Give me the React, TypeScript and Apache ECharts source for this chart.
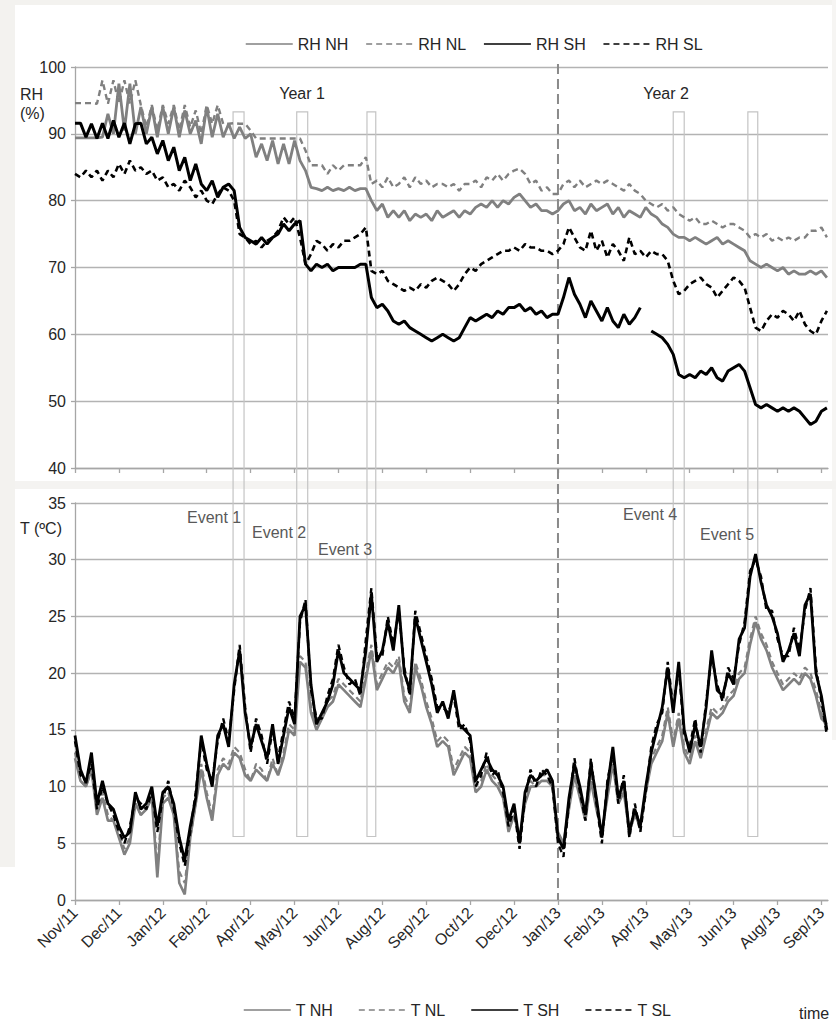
import React, { useEffect, useRef } from 'react';
import * as echarts from 'echarts';

// ---------- DATA ----------
const tickLabels = ['Nov/11', 'Dec/11', 'Jan/12', 'Feb/12', 'Apr/12', 'May/12', 'Jun/12', 'Aug/12', 'Sep/12',
  'Oct/12', 'Dec/12', 'Jan/13', 'Feb/13', 'Apr/13', 'May/13', 'Jun/13', 'Aug/13', 'Sep/13'];
const tickStepDays = 40; // days between axis labels (from 1 Nov 2011)
const dayStep = 5; // sampling step of the series (days)
const xMaxDay = 686;

const rhNames = ['RH NH', 'RH NL', 'RH SH', 'RH SL'];
const tNames = ['T NH', 'T NL', 'T SH', 'T SL'];

// RH (%) every 5 days from 1 Nov 2011
const rhNH = [
  89.4, 89.4, 89.4, 89.4, 89.4, 89.5, 93.0, 90.0, 97.5, 90.5,
  97.5, 90.0, 94.0, 90.0, 94.0, 89.5, 94.0, 90.0, 94.0, 89.5,
  93.5, 90.0, 92.0, 88.5, 94.0, 89.5, 93.0, 89.5, 91.5, 89.3,
  91.0, 89.3, 90.0, 86.5, 88.5, 86.0, 89.0, 85.5, 88.5, 85.5,
  89.0, 86.0, 84.5, 82.0, 81.8, 81.5, 82.0, 81.5, 81.8, 81.5,
  82.0, 81.5, 81.8, 81.8, 80.0, 78.5, 79.5, 77.5, 78.5, 77.5,
  78.5, 77.0, 78.0, 77.5, 78.0, 77.0, 78.5, 77.5, 78.0, 78.5,
  77.5, 78.5, 78.0, 79.0, 79.5, 79.0, 80.0, 79.0, 80.0, 79.5,
  80.5, 81.0, 80.0, 79.0, 79.5, 78.5, 78.5, 78.0, 78.5, 79.5,
  80.0, 78.5, 79.0, 78.0, 79.5, 78.5, 79.0, 79.5, 78.0, 79.0,
  77.5, 78.5, 78.0, 77.5, 79.0, 78.0, 77.5, 76.5, 76.0, 75.0,
  74.5, 74.5, 74.0, 74.5, 74.0, 73.5, 74.0, 74.5, 73.5, 74.0,
  73.5, 73.0, 72.5, 71.0, 70.5, 70.0, 70.5, 70.0, 69.5, 70.0,
  69.0, 69.5, 69.0, 69.0, 69.5, 69.0, 69.5, 68.5,
];
const rhNL = [
  94.6, 94.6, 94.6, 94.6, 94.5, 98.0, 94.5, 98.0, 94.5, 98.0,
  94.5, 98.0, 94.3, 91.0, 94.3, 90.5, 94.3, 91.5, 94.3, 90.5,
  94.3, 91.0, 93.5, 90.0, 94.3, 91.5, 94.3, 91.5, 91.5, 91.6,
  91.5, 91.5, 90.5, 89.3, 89.3, 89.3, 89.3, 89.3, 89.3, 89.3,
  89.3, 89.3, 87.5, 85.3, 85.3, 85.3, 84.0, 85.3, 84.5, 85.3,
  85.3, 85.3, 85.3, 86.5, 82.5, 83.0, 82.0, 83.5, 82.0, 82.5,
  83.5, 82.0, 83.5, 82.5, 83.0, 82.0, 82.5, 82.5, 82.0, 82.5,
  81.5, 82.5, 82.5, 83.0, 82.0, 83.5, 83.0, 84.0, 83.0, 84.0,
  84.5, 84.8, 84.0, 82.5, 83.0, 81.5, 82.0, 81.0, 81.0, 82.5,
  83.0, 82.0, 83.0, 82.0, 82.5, 83.0, 82.5, 83.0, 82.5, 82.0,
  81.5, 82.5, 81.5, 81.0, 80.0, 79.5, 79.0, 79.5, 78.5, 79.0,
  78.0, 77.5, 77.0, 77.5, 76.5, 76.5, 77.0, 76.5, 76.0, 76.5,
  76.5, 76.0, 75.5, 74.5, 75.0, 74.5, 75.0, 74.0, 74.5, 74.0,
  74.5, 74.0, 74.5, 74.5, 75.5, 75.5, 76.0, 74.5,
];
const rhSH = [
  91.6, 91.6, 89.5, 91.5, 89.3, 91.6, 89.3, 92.0, 89.5, 91.6,
  88.5, 91.5, 91.6, 88.5, 89.5, 87.0, 89.0, 86.0, 88.0, 84.5,
  86.5, 83.0, 85.5, 82.5, 81.5, 83.0, 80.5, 82.0, 82.5, 81.5,
  76.0, 74.5, 74.0, 73.5, 74.5, 73.5, 74.5, 75.0, 76.5, 75.5,
  76.5, 77.0, 70.5, 69.5, 70.5, 70.0, 70.5, 69.5, 70.0, 70.0,
  70.0, 70.0, 70.5, 70.5, 65.5, 64.0, 64.5, 63.5, 62.0, 61.5,
  62.0, 61.0, 60.5, 60.0, 59.5, 59.0, 59.5, 60.0, 59.5, 59.0,
  59.5, 61.0, 62.5, 62.0, 62.5, 63.0, 62.5, 63.5, 63.0, 64.0,
  64.0, 64.5, 63.5, 64.0, 63.0, 63.5, 62.5, 63.0, 63.0, 65.5,
  68.5, 66.0, 64.5, 62.5, 65.0, 63.5, 62.0, 64.0, 62.0, 61.0,
  63.0, 61.5, 62.5, 64.0, null, 60.5, 60.0, 59.5, 58.5, 57.0,
  54.0, 53.5, 54.0, 53.5, 54.5, 54.0, 55.0, 53.5, 53.0, 54.5,
  55.0, 55.5, 54.5, 52.0, 49.5, 49.0, 49.5, 49.0, 48.5, 49.0,
  48.5, 49.0, 48.5, 47.5, 46.5, 47.0, 48.5, 49.0,
];
const rhSL = [
  84.0, 83.5, 84.5, 83.5, 84.5, 83.0, 84.5, 83.5, 85.5, 84.0,
  86.0, 84.5, 85.0, 84.0, 84.5, 83.0, 83.5, 82.0, 82.5, 81.5,
  83.0, 82.0, 80.5, 81.5, 80.0, 79.5, 81.0, 82.0, 81.5, 80.0,
  75.0, 74.5, 73.5, 74.0, 73.0, 74.0, 74.5, 75.5, 77.5, 76.5,
  77.5, 74.5, 70.5, 72.0, 74.0, 73.5, 72.5, 73.5, 73.0, 74.0,
  74.0, 74.5, 75.0, 76.0, 69.5, 69.0, 69.5, 68.0, 67.5, 67.0,
  66.5, 67.0, 66.5, 67.5, 67.0, 68.0, 68.5, 68.0, 67.5, 66.5,
  67.5, 69.0, 70.0, 69.5, 70.5, 71.0, 71.5, 72.0, 72.5, 72.5,
  73.0, 72.5, 73.5, 73.0, 73.0, 72.5, 72.5, 72.0, 72.5, 73.5,
  76.0, 74.5, 73.0, 72.5, 75.5, 72.5, 74.0, 71.5, 73.5, 72.5,
  71.0, 74.5, 72.0, 72.5, 71.5, 72.5, 72.0, 72.0, 71.0, 68.0,
  66.0, 66.5, 67.5, 68.0, 68.5, 67.5, 67.0, 65.5, 66.5, 67.5,
  68.5, 68.0, 67.0, 64.0, 61.0, 60.5, 62.0, 63.0, 62.5, 63.5,
  63.0, 62.0, 63.5, 61.5, 60.5, 60.0, 62.0, 63.5,
];

// T (ºC) every 5 days from 1 Nov 2011
const tNH = [
  12.5, 10.5, 10.0, 11.5, 7.5, 9.0, 7.0, 7.0, 5.5, 4.0,
  5.0, 8.5, 7.5, 8.0, 9.0, 2.0, 8.5, 9.0, 7.5, 1.5,
  0.5, 5.5, 8.5, 11.5, 9.0, 7.0, 11.0, 12.0, 11.5, 13.0,
  12.5, 11.0, 10.5, 11.5, 11.0, 10.5, 12.0, 11.0, 12.5, 15.0,
  14.5, 21.0, 20.5, 16.5, 15.0, 16.0, 17.0, 17.5, 19.0, 18.5,
  18.0, 17.5, 17.0, 19.5, 22.0, 18.5, 19.5, 20.5, 20.0, 21.0,
  17.5, 16.5, 20.5, 19.0, 17.0, 15.5, 13.5, 14.0, 13.5, 11.0,
  12.0, 13.0, 12.5, 9.5, 10.0, 11.5, 10.5, 10.0, 9.0, 6.0,
  7.5, 5.5, 8.5, 10.0, 10.0, 10.5, 10.5, 10.0, 6.0, 5.0,
  8.0, 11.0, 9.0, 7.0, 10.5, 8.0, 6.0, 9.0, 12.0, 8.5,
  9.5, 6.0, 7.5, 6.5, 9.5, 12.0, 13.0, 14.0, 16.5, 13.5,
  16.0, 13.0, 12.0, 14.0, 12.5, 14.5, 16.5, 16.0, 16.5, 17.5,
  18.0, 19.5, 20.0, 22.5, 24.5, 23.0, 22.0, 20.5, 19.5, 18.5,
  19.0, 19.5, 19.0, 20.0, 19.5, 18.0, 16.0, 15.5,
];
const tNL = [
  13.0, 10.5, 10.0, 11.5, 8.0, 9.5, 7.5, 7.0, 6.0, 4.5,
  5.5, 8.5, 7.5, 8.0, 9.5, 3.0, 9.0, 9.5, 7.5, 2.5,
  1.5, 5.5, 8.5, 12.0, 9.5, 7.5, 11.5, 12.5, 12.0, 13.5,
  13.0, 11.5, 10.5, 12.0, 11.5, 10.5, 12.5, 11.0, 13.0, 15.5,
  15.0, 21.5, 21.0, 17.0, 15.5, 16.0, 17.5, 18.0, 19.5, 19.0,
  18.5, 18.0, 17.5, 20.0, 22.5, 19.0, 20.0, 21.0, 20.5, 21.5,
  18.0, 17.0, 21.0, 19.5, 17.5, 16.0, 14.0, 14.5, 14.0, 11.5,
  12.5, 13.5, 13.0, 10.0, 10.5, 12.0, 11.0, 10.5, 9.5, 6.5,
  8.0, 5.0, 9.0, 10.5, 10.0, 11.0, 11.0, 10.0, 5.5, 4.5,
  8.5, 11.5, 9.5, 7.5, 11.0, 8.5, 5.5, 9.5, 12.5, 9.0,
  10.0, 5.5, 8.0, 6.0, 10.0, 12.5, 13.5, 14.5, 17.0, 14.0,
  16.5, 13.5, 12.5, 14.5, 13.0, 15.0, 17.0, 16.5, 17.0, 18.0,
  18.5, 20.0, 20.5, 23.0, 25.0, 23.5, 22.5, 21.0, 20.0, 19.0,
  19.5, 20.0, 19.5, 20.5, 20.0, 18.5, 16.5, 15.0,
];
const tSH = [
  14.5, 11.5, 10.3, 13.0, 8.5, 10.5, 8.5, 8.0, 6.5, 5.5,
  6.0, 9.5, 8.0, 8.5, 10.0, 6.5, 9.5, 10.0, 8.5, 5.5,
  3.5, 6.5, 9.0, 14.5, 12.0, 10.0, 14.5, 15.5, 13.5, 19.0,
  22.0, 16.5, 13.5, 15.5, 14.0, 12.5, 15.5, 12.0, 14.5, 17.0,
  15.5, 25.0, 26.0, 19.0, 15.5, 16.5, 17.5, 19.0, 22.0, 20.0,
  19.5, 19.0, 18.5, 22.0, 27.0, 21.0, 22.0, 24.5, 22.0, 26.0,
  20.0, 18.5, 25.0, 23.0, 21.0, 19.0, 16.5, 17.5, 16.0, 18.5,
  15.5, 15.0, 14.5, 10.5, 11.5, 12.5, 11.5, 11.0, 10.0, 7.0,
  8.5, 5.0, 9.5, 11.0, 10.5, 11.0, 11.5, 10.5, 5.5, 4.5,
  9.0, 12.0, 10.0, 7.5, 12.0, 9.0, 5.5, 10.0, 13.5, 9.0,
  10.5, 6.0, 8.0, 6.5, 10.0, 13.0, 15.0, 17.0, 20.5, 16.5,
  21.0, 15.0, 13.0, 15.5, 13.5, 17.0, 22.0, 18.5, 18.0, 20.0,
  19.0, 23.0, 24.0, 28.5, 30.5, 28.0, 26.0, 25.0, 23.5, 21.0,
  22.0, 23.5, 21.5, 26.0, 27.0, 20.0, 18.0, 15.0,
];
const tSL = [
  14.0, 11.0, 10.5, 12.0, 8.0, 10.0, 8.5, 7.5, 6.0, 5.0,
  6.5, 9.0, 8.5, 8.0, 9.5, 6.0, 9.0, 10.5, 8.0, 5.0,
  3.0, 6.0, 9.5, 14.0, 11.5, 10.5, 14.0, 16.0, 14.0, 18.5,
  22.5, 17.0, 13.0, 16.0, 14.5, 12.0, 15.0, 12.5, 15.0, 17.5,
  16.0, 24.5, 26.5, 18.5, 16.0, 16.0, 18.0, 19.5, 22.5, 20.5,
  19.0, 19.5, 18.0, 23.0, 27.5, 21.5, 21.5, 25.0, 22.5, 25.5,
  20.5, 18.0, 25.5, 23.5, 21.5, 19.5, 17.0, 17.0, 16.5, 18.0,
  15.0, 15.5, 14.0, 10.0, 11.0, 13.0, 11.0, 11.5, 9.5, 6.5,
  8.0, 4.5, 9.0, 11.5, 10.0, 11.5, 11.0, 10.0, 5.0, 3.8,
  8.5, 12.5, 9.5, 7.0, 12.5, 8.5, 5.0, 10.5, 13.0, 8.5,
  11.0, 5.5, 8.5, 6.0, 9.5, 13.5, 15.5, 16.5, 21.0, 17.0,
  20.5, 14.5, 13.5, 16.0, 13.0, 17.5, 21.5, 19.0, 17.5, 20.5,
  19.5, 22.5, 24.5, 29.0, 30.0, 28.5, 25.5, 25.5, 23.0, 21.5,
  21.5, 24.0, 22.0, 25.5, 27.5, 20.5, 17.5, 14.5,
];

// events: [start day, end day]
const eventSpans = [[144, 154], [202, 212], [266, 274], [545, 555], [613, 622]];
const eventLabels = ['Event 1', 'Event 2', 'Event 3', 'Event 4', 'Event 5'];
const eventTopRH = 93.3;
const eventBottomT = 5.6;
const yearDividerDay = 440;
const yearLabels = ['Year 1', 'Year 2'];

// ---------- STYLE / LAYOUT ----------
const FONT = "'Liberation Sans', Arial, Helvetica, sans-serif";
const gray = '#808080';
const black = '#000000';
const axisColor = '#a6a6a6';
const gridColor = '#b3b3b3';
const textColor = '#262626';
const rhGrid = { left: 75, top: 67, width: 753, height: 401 };
const tGrid = { left: 75, top: 503, width: 753, height: 397 };
const gridGap = tGrid.top - (rhGrid.top + rhGrid.height);

const toPairs = (vals: (number | null)[]) => vals.map((v, i) => [i * dayStep, v]);
const xTickDays = tickLabels.map((_, i) => i * tickStepDays);

function lineSeries(name: string, vals: (number | null)[], color: string, dashed: boolean, width: number, idx: number) {
  return {
    type: 'line',
    name,
    xAxisIndex: idx,
    yAxisIndex: idx,
    data: toPairs(vals),
    symbol: 'none',
    showSymbol: false,
    connectNulls: false,
    silent: true,
    z: 3,
    color,
    itemStyle: { color },
    lineStyle: { color, width, type: dashed ? [6, 4] : 'solid' },
  };
}

function xAxis(idx: number, showLabels: boolean) {
  return {
    type: 'value',
    gridIndex: idx,
    min: 0,
    max: xMaxDay,
    interval: tickStepDays,
    axisLine: { show: true, onZero: false, lineStyle: { color: axisColor, width: 1.3 } },
    axisTick: { show: true, length: 5, customValues: xTickDays, lineStyle: { color: axisColor, width: 1.3 } },
    axisLabel: {
      show: showLabels,
      customValues: xTickDays,
      rotate: 45,
      margin: 10,
      color: textColor,
      fontSize: 16,
      fontFamily: FONT,
      formatter: (v: number) => tickLabels[Math.round(v / tickStepDays)] ?? '',
    },
    splitLine: { show: false },
  };
}

function yAxis(idx: number, min: number, max: number, interval: number) {
  return {
    type: 'value',
    gridIndex: idx,
    min,
    max,
    interval,
    axisLine: { show: true, lineStyle: { color: axisColor, width: 1.3 } },
    axisTick: { show: true, length: 4, lineStyle: { color: axisColor, width: 1.3 } },
    axisLabel: { margin: 9, color: textColor, fontSize: 16, fontFamily: FONT },
    splitLine: { show: true, lineStyle: { color: gridColor, width: 1.3 } },
  };
}

function txt(text: string, x: number, y: number, align: string, fill: string) {
  return {
    type: 'text',
    x,
    y,
    z: 50,
    silent: true,
    style: {
      text,
      fill,
      font: `16px ${FONT}`,
      align,
      textAlign: align,
      verticalAlign: 'middle',
      textVerticalAlign: 'middle',
    },
  };
}

export default function App() {
  const ref = useRef<HTMLDivElement>(null);

  useEffect(() => {
    if (!ref.current) return;
    const chart = echarts.init(ref.current, null, { renderer: 'svg' });

    const eventStyle = { stroke: '#c4c4c4', lineWidth: 1.2, fill: 'none' };
    const dividerStyle = { stroke: '#8a8a8a', lineWidth: 2, lineDash: [10, 5], fill: 'none' };

    const option: any = {
      animation: false,
      backgroundColor: '#ffffff',
      textStyle: { fontFamily: FONT },
      grid: [
        { ...rhGrid, outerBoundsMode: 'none', containLabel: false },
        { ...tGrid, outerBoundsMode: 'none', containLabel: false },
      ],
      xAxis: [xAxis(0, false), xAxis(1, true)],
      yAxis: [yAxis(0, 40, 100, 10), yAxis(1, 0, 35, 5)],
      legend: [
        {
          data: rhNames, left: 240, top: 31, itemWidth: 47, itemHeight: 14, itemGap: 17,
          selectedMode: false, itemStyle: { opacity: 0 }, lineStyle: { width: 1.5 },
          textStyle: { fontSize: 16, color: textColor, fontFamily: FONT },
        },
        {
          data: tNames, left: 238, top: 997, itemWidth: 47, itemHeight: 14, itemGap: 25,
          selectedMode: false, itemStyle: { opacity: 0 }, lineStyle: { width: 1.5 },
          textStyle: { fontSize: 16, color: textColor, fontFamily: FONT },
        },
      ],
      graphic: [
        { type: 'rect', z: -10, silent: true, shape: { x: 0, y: 0, width: 15, height: 867 }, style: { fill: '#f3f2ef' } },
        { type: 'rect', z: -10, silent: true, shape: { x: 0, y: 0, width: 836, height: 5 }, style: { fill: '#f3f2ef' } },
        { type: 'rect', z: -10, silent: true, shape: { x: 832, y: 0, width: 4, height: 740 }, style: { fill: '#f6f5f3' } },
        { type: 'rect', z: -10, silent: true, shape: { x: 15, y: 481, width: 821, height: 8 }, style: { fill: '#f4f3f1' } },
        txt('RH', 20, 94, 'left', textColor),
        txt('(%)', 20, 113, 'left', textColor),
        txt('T (ºC)', 20, 528, 'left', textColor),
        txt(yearLabels[0], 302, 93, 'center', textColor),
        txt(yearLabels[1], 666, 93, 'center', textColor),
        txt(eventLabels[0], 187, 517, 'left', '#595959'),
        txt(eventLabels[1], 252, 532, 'left', '#595959'),
        txt(eventLabels[2], 318, 549, 'left', '#595959'),
        txt(eventLabels[3], 623, 514, 'left', '#595959'),
        txt(eventLabels[4], 700, 534, 'left', '#595959'),
        txt('time', 799, 1013, 'left', textColor),
      ],
      series: [
        // event boxes, upper part (RH panel, continues through the gap)
        {
          type: 'custom', xAxisIndex: 0, yAxisIndex: 0, clip: false, silent: true, z: 1,
          data: eventSpans,
          renderItem: (_p: any, api: any) => {
            const a = api.coord([api.value(0), eventTopRH]);
            const b = api.coord([api.value(1), 40]);
            const yb = b[1] + gridGap;
            return { type: 'polyline', shape: { points: [[a[0], yb], [a[0], a[1]], [b[0], a[1]], [b[0], yb]] }, style: eventStyle };
          },
        },
        // event boxes, lower part (T panel)
        {
          type: 'custom', xAxisIndex: 1, yAxisIndex: 1, clip: false, silent: true, z: 1,
          data: eventSpans,
          renderItem: (_p: any, api: any) => {
            const a = api.coord([api.value(0), 35]);
            const b = api.coord([api.value(1), eventBottomT]);
            return { type: 'polyline', shape: { points: [[a[0], a[1]], [a[0], b[1]], [b[0], b[1]], [b[0], a[1]]] }, style: eventStyle };
          },
        },
        // year divider
        {
          type: 'custom', xAxisIndex: 0, yAxisIndex: 0, clip: false, silent: true, z: 1,
          data: [[yearDividerDay, 100]],
          renderItem: (_p: any, api: any) => {
            const a = api.coord([api.value(0), 100]);
            const b = api.coord([api.value(0), 40]);
            return { type: 'line', shape: { x1: a[0], y1: a[1] - 3, x2: b[0], y2: b[1] + gridGap }, style: dividerStyle };
          },
        },
        {
          type: 'custom', xAxisIndex: 1, yAxisIndex: 1, clip: false, silent: true, z: 1,
          data: [[yearDividerDay, 0]],
          renderItem: (_p: any, api: any) => {
            const a = api.coord([api.value(0), 35]);
            const b = api.coord([api.value(0), 0]);
            return { type: 'line', shape: { x1: a[0], y1: a[1], x2: b[0], y2: b[1] }, style: dividerStyle };
          },
        },
        lineSeries(rhNames[0], rhNH, gray, false, 2.8, 0),
        lineSeries(rhNames[1], rhNL, gray, true, 2.4, 0),
        lineSeries(rhNames[2], rhSH, black, false, 3, 0),
        lineSeries(rhNames[3], rhSL, black, true, 2.6, 0),
        lineSeries(tNames[0], tNH, gray, false, 2.6, 1),
        lineSeries(tNames[1], tNL, gray, true, 2.2, 1),
        lineSeries(tNames[2], tSH, black, false, 2.8, 1),
        lineSeries(tNames[3], tSL, black, true, 2.4, 1),
      ],
    };

    chart.setOption(option);
    return () => chart.dispose();
  }, []);

  return <div ref={ref} style={{ position: 'absolute', left: 0, top: 0, width: 836, height: 1020 }} />;
}
